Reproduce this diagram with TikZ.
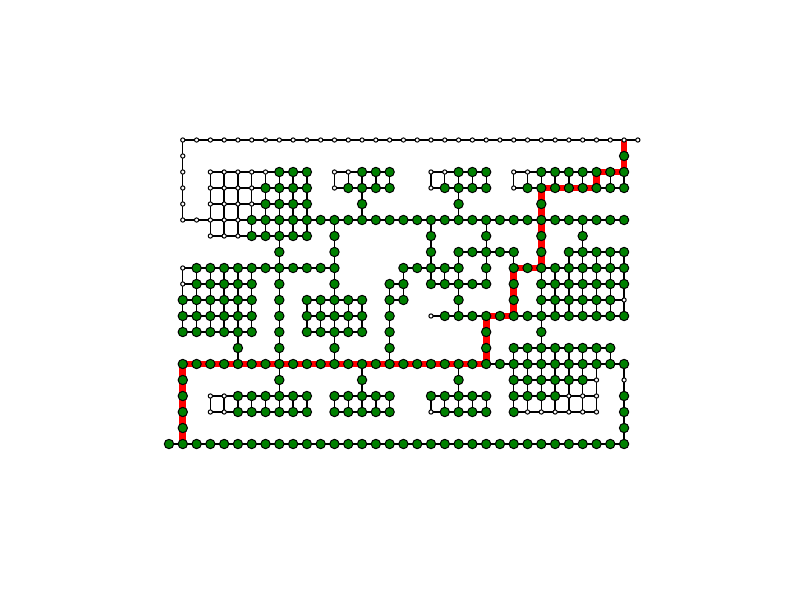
\documentclass[tikz,border=0pt]{standalone}
\usepackage{tikz}
\definecolor{ngreen}{RGB}{0,128,0}
\definecolor{nred}{RGB}{255,0,0}
\pgfdeclarelayer{edges}
\pgfsetlayers{edges,main}
\tikzset{
 gnode/.style={circle,draw=black,fill=ngreen,line width=0.75pt,minimum size=7pt,inner sep=0pt},
 wnode/.style={circle,draw=black,fill=white,line width=0.75pt,minimum size=3.2pt,inner sep=0pt},
 edge/.style={draw=black,line width=1pt},
 redpath/.style={draw=nred,line width=5pt,line join=miter}
}
\newcommand\nrow[4]{\foreach \qc in {#2,...,#3}{\node[#4] (n\qc-#1) at (\qc,#1) {};}}
\newcommand\hpth[3]{\foreach \hc in {#2,...,#3}{\ifnum\hc>#2\relax \pgfmathtruncatemacro\hq{\hc-1}\draw[edge] (n\hq-#1.center) -- (n\hc-#1.center);\fi}}
\newcommand\vpth[3]{\foreach \vr in {#2,...,#3}{\ifnum\vr>#2\relax \pgfmathtruncatemacro\vq{\vr-1}\draw[edge] (n#1-\vq.center) -- (n#1-\vr.center);\fi}}
\newcommand\mgrid[4]{\foreach \gr in {#3,...,#4}{\hpth{\gr}{#1}{#2}}\foreach \gc in {#1,...,#2}{\vpth{\gc}{#3}{#4}}}
\begin{document}
\begin{tikzpicture}[x=10.3425pt,y=-12pt]
\useasboundingbox (-12.255,-8.75) rectangle (45.758,28.75);
% white nodes
\nrow{0}{1}{34}{wnode}
\foreach \qr in {1,...,4}{\node[wnode] (n1-\qr) at (1,\qr) {};}
\nrow{5}{1}{5}{wnode}
\nrow{2}{3}{7}{wnode}
\nrow{3}{3}{6}{wnode}
\nrow{4}{3}{6}{wnode}
\nrow{6}{3}{5}{wnode}
\nrow{2}{12}{13}{wnode}
\nrow{3}{12}{12}{wnode}
\nrow{2}{19}{20}{wnode}
\nrow{3}{19}{19}{wnode}
\nrow{2}{25}{26}{wnode}
\nrow{3}{25}{25}{wnode}
\nrow{8}{1}{1}{wnode}
\nrow{9}{1}{1}{wnode}
\nrow{10}{33}{33}{wnode}
\nrow{11}{19}{19}{wnode}
\nrow{15}{31}{31}{wnode}
\nrow{15}{33}{33}{wnode}
\nrow{16}{3}{4}{wnode}
\nrow{16}{29}{31}{wnode}
\nrow{17}{3}{4}{wnode}
\nrow{17}{19}{19}{wnode}
\nrow{17}{26}{31}{wnode}
% green nodes
\nrow{1}{33}{33}{gnode}
\nrow{2}{8}{10}{gnode}\nrow{2}{14}{16}{gnode}\nrow{2}{21}{23}{gnode}\nrow{2}{27}{33}{gnode}
\nrow{3}{7}{10}{gnode}\nrow{3}{13}{16}{gnode}\nrow{3}{20}{23}{gnode}\nrow{3}{26}{33}{gnode}
\nrow{4}{7}{10}{gnode}\nrow{4}{14}{14}{gnode}\nrow{4}{21}{21}{gnode}\nrow{4}{27}{27}{gnode}
\nrow{5}{6}{33}{gnode}
\nrow{6}{6}{10}{gnode}\nrow{6}{12}{12}{gnode}\nrow{6}{19}{19}{gnode}\nrow{6}{23}{23}{gnode}\nrow{6}{27}{27}{gnode}\nrow{6}{30}{30}{gnode}
\nrow{7}{8}{8}{gnode}\nrow{7}{12}{12}{gnode}\nrow{7}{19}{19}{gnode}\nrow{7}{21}{25}{gnode}\nrow{7}{27}{27}{gnode}\nrow{7}{29}{33}{gnode}
\nrow{8}{2}{12}{gnode}\nrow{8}{17}{21}{gnode}\nrow{8}{23}{23}{gnode}\nrow{8}{25}{33}{gnode}
\nrow{9}{2}{6}{gnode}\nrow{9}{8}{8}{gnode}\nrow{9}{12}{12}{gnode}\nrow{9}{16}{17}{gnode}\nrow{9}{19}{23}{gnode}\nrow{9}{25}{25}{gnode}\nrow{9}{27}{33}{gnode}
\nrow{10}{1}{6}{gnode}\nrow{10}{8}{8}{gnode}\nrow{10}{10}{14}{gnode}\nrow{10}{16}{17}{gnode}\nrow{10}{21}{21}{gnode}\nrow{10}{25}{25}{gnode}\nrow{10}{27}{32}{gnode}
\nrow{11}{1}{6}{gnode}\nrow{11}{8}{8}{gnode}\nrow{11}{10}{14}{gnode}\nrow{11}{16}{16}{gnode}\nrow{11}{20}{33}{gnode}
\nrow{12}{1}{6}{gnode}\nrow{12}{8}{8}{gnode}\nrow{12}{10}{14}{gnode}\nrow{12}{16}{16}{gnode}\nrow{12}{23}{23}{gnode}\nrow{12}{27}{27}{gnode}
\nrow{13}{5}{5}{gnode}\nrow{13}{8}{8}{gnode}\nrow{13}{12}{12}{gnode}\nrow{13}{16}{16}{gnode}\nrow{13}{23}{23}{gnode}\nrow{13}{25}{32}{gnode}
\nrow{14}{1}{33}{gnode}
\nrow{15}{1}{1}{gnode}\nrow{15}{8}{8}{gnode}\nrow{15}{14}{14}{gnode}\nrow{15}{21}{21}{gnode}\nrow{15}{25}{30}{gnode}
\nrow{16}{1}{1}{gnode}\nrow{16}{5}{10}{gnode}\nrow{16}{12}{16}{gnode}\nrow{16}{19}{23}{gnode}\nrow{16}{25}{28}{gnode}\nrow{16}{33}{33}{gnode}
\nrow{17}{1}{1}{gnode}\nrow{17}{5}{10}{gnode}\nrow{17}{12}{16}{gnode}\nrow{17}{20}{23}{gnode}\nrow{17}{25}{25}{gnode}\nrow{17}{33}{33}{gnode}
\nrow{18}{1}{1}{gnode}\nrow{18}{33}{33}{gnode}
\nrow{19}{0}{33}{gnode}
% edges
\begin{pgfonlayer}{edges}
\hpth{0}{1}{34}
\vpth{1}{0}{5}
\hpth{5}{1}{33}
\mgrid{3}{10}{2}{6}
\mgrid{12}{16}{2}{3}
\vpth{14}{3}{5}
\mgrid{19}{23}{2}{3}
\vpth{21}{3}{5}
\mgrid{25}{33}{2}{3}
\vpth{33}{0}{2}
\vpth{27}{3}{8}
\vpth{8}{6}{16}
\vpth{12}{5}{14}
\vpth{19}{5}{8}
\vpth{23}{5}{9}
\vpth{30}{5}{7}
\hpth{7}{21}{25}
\hpth{7}{29}{33}
\vpth{21}{7}{11}
\vpth{25}{7}{11}
\hpth{8}{1}{12}
\mgrid{1}{6}{8}{12}
\hpth{8}{17}{21}
\hpth{8}{25}{33}
\hpth{9}{16}{17}
\hpth{9}{19}{23}
\vpth{17}{8}{10}
\vpth{19}{8}{9}
\vpth{20}{8}{9}
\hpth{10}{16}{17}
\vpth{16}{9}{14}
\hpth{11}{19}{33}
\mgrid{10}{14}{10}{12}
\vpth{5}{12}{14}
\mgrid{27}{33}{8}{11}
\foreach \xx in {29,...,33}{\vpth{\xx}{7}{8}}
\vpth{27}{11}{13}
\vpth{23}{11}{14}
\mgrid{25}{31}{13}{17}
\hpth{13}{25}{32}
\vpth{32}{13}{14}
\hpth{14}{1}{33}
\vpth{33}{14}{19}
\vpth{1}{14}{19}
\vpth{14}{14}{16}
\vpth{21}{14}{16}
\mgrid{3}{10}{16}{17}
\mgrid{12}{16}{16}{17}
\mgrid{19}{23}{16}{17}
\hpth{19}{0}{33}
\draw[redpath] (n33-0.center) -- (n33-2.center) -- (n31-2.center) -- (n31-3.center)
  -- (n27-3.center) -- (n27-8.center) -- (n25-8.center) -- (n25-11.center)
  -- (n23-11.center) -- (n23-14.center) -- (n1-14.center) -- (n1-19.center);
\end{pgfonlayer}
\end{tikzpicture}
\end{document}
